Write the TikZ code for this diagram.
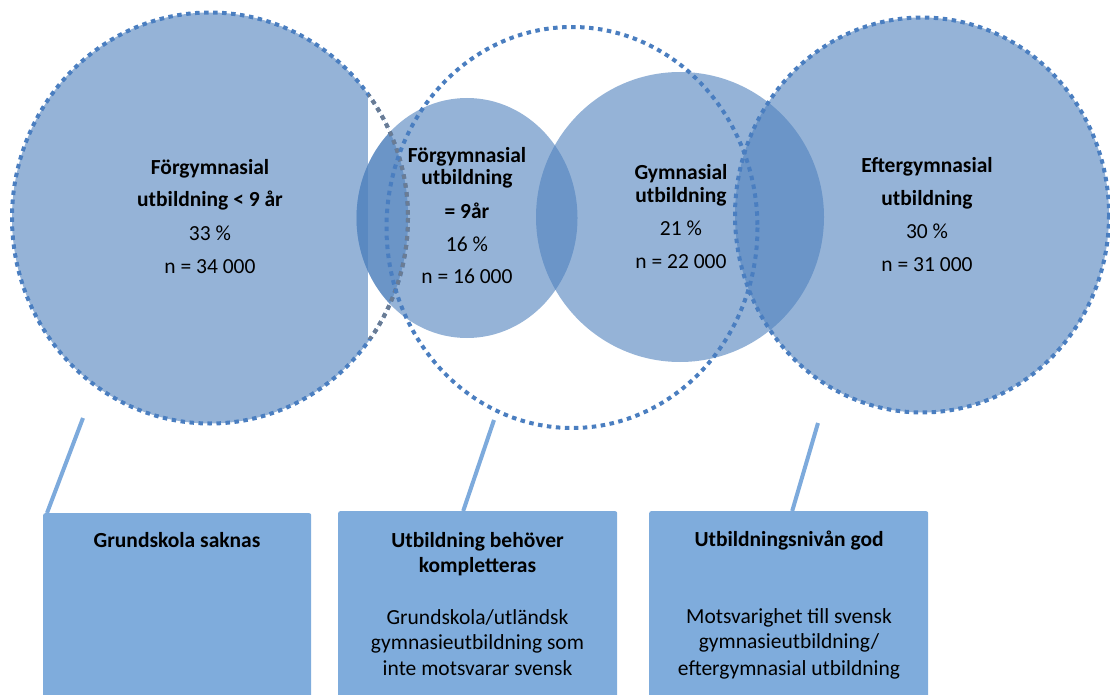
\documentclass[tikz,border=0pt]{standalone}
\usepackage{fontspec}
\setmainfont{Carlito}
\definecolor{vennblue}{HTML}{4F81BD}
\definecolor{dotblue}{HTML}{4A7EC0}
\definecolor{dotgrey}{HTML}{6A7C94}
\definecolor{boxblue}{HTML}{7FACDC}
\definecolor{linkblue}{HTML}{7DAADC}
\begin{document}
\begin{tikzpicture}[x=1pt,y=-1pt,
  vennfill/.style={fill=vennblue, fill opacity=0.6},
  dotring/.style={draw=dotblue, line width=4pt, dash pattern=on 4.5pt off 4.5pt},
  link/.style={draw=linkblue, line width=4pt},
  infobox/.style={fill=boxblue, rounded corners=2pt, inner sep=0pt, anchor=north west, minimum height=200pt},
  txt/.style={font=\fontsize{21.5}{26}\selectfont, anchor=base, inner sep=0pt},
  txtb/.style={txt, font=\fontsize{21.5}{26}\selectfont\bfseries}]

\useasboundingbox (0,0) rectangle (1110,695);

% centres of the rings
\coordinate (c1) at (210,218);
\coordinate (c2) at (467,218);
\coordinate (c3) at (680,217);
\coordinate (c4) at (922,215);
\coordinate (c5) at (572,227.5);

% fills
\fill[vennfill] (c1) ellipse [x radius=198, y radius=205.5];
\begin{scope}
  \clip (c1) ellipse [x radius=198, y radius=205.5];
  \fill[white] (368,95) rectangle (533,338);
\end{scope}
\fill[vennfill] (c2) ellipse [x radius=110.5, y radius=120];
\begin{scope}
  \clip (c1) ellipse [x radius=198, y radius=205.5];
  \fill[vennfill] (c2) ellipse [x radius=110.5, y radius=120];
\end{scope}
\fill[vennfill] (c3) ellipse [x radius=144, y radius=145];
\fill[vennfill] (c4) ellipse [x radius=187, y radius=197.5];

% dotted rings
\draw[dotring] (c1) ellipse [x radius=198, y radius=205.5];
\begin{scope}
  \clip (368,95) rectangle (533,338);
  \draw[dotring, draw=dotgrey] (c1) ellipse [x radius=198, y radius=205.5];
\end{scope}
\draw[dotring] (c4) ellipse [x radius=187, y radius=197.5];
\draw[dotring] (c5) ellipse [x radius=185.5, y radius=200.5];

% circle texts
\node[txtb] (a1) at (210,175) {Förgymnasial};
\node[txtb] (a2) at (210,206) {utbildning < 9 år};
\node[txt]  (a3) at (210,240) {33 \%};
\node[txt]  (a4) at (210,273) {n = 34 000};

\node[txtb] (b1t) at (467,163) {Förgymnasial};
\node[txtb] (b2t) at (467,185) {utbildning};
\node[txtb] (b3t) at (467,218) {= 9år};
\node[txt]  (b4t) at (467,251) {16 \%};
\node[txt]  (b5t) at (467,283) {n = 16 000};

\node[txtb] (g1) at (681,180) {Gymnasial};
\node[txtb] (g2) at (681,203) {utbildning};
\node[txt]  (g3) at (681,235) {21 \%};
\node[txt]  (g4) at (681,268) {n = 22 000};

\node[txtb] (e1) at (927,173) {Eftergymnasial};
\node[txtb] (e2) at (927,205) {utbildning};
\node[txt]  (e3) at (927,238) {30 \%};
\node[txt]  (e4) at (927,271) {n = 31 000};

% boxes
\node[infobox, minimum width=268pt] (x1) at (43,513) {};
\node[infobox, minimum width=279pt] (x2) at (338,511) {};
\node[infobox, minimum width=279pt] (x3) at (649,511) {};

% connectors
\coordinate (k1) at (83,418);
\coordinate (k2) at (494,420);
\coordinate (k3) at (818,423);
\draw[link] (k1) -- ([xshift=4pt]x1.north west);
\draw[link] (k2) -- ([xshift=-14.5pt]x2.north);
\draw[link] (k3) -- ([xshift=3.5pt]x3.north);

% box texts
\node[txtb] (p1) at (177,547) {Grundskola saknas};

\node[txtb] (q1) at (477.5,547) {Utbildning behöver};
\node[txtb] (q2) at (477.5,572) {kompletteras};
\node[txt]  (q3) at (477.5,624) {Grundskola/utländsk};
\node[txt]  (q4) at (477.5,649) {gymnasieutbildning som};
\node[txt]  (q5) at (477.5,675) {inte motsvarar svensk};

\node[txtb] (r1) at (789,546) {Utbildningsnivån god};
\node[txt]  (r2) at (789,623) {Motsvarighet till svensk};
\node[txt]  (r3) at (789,648) {gymnasieutbildning/};
\node[txt]  (r4) at (789,675) {eftergymnasial utbildning};
\end{tikzpicture}
\end{document}
